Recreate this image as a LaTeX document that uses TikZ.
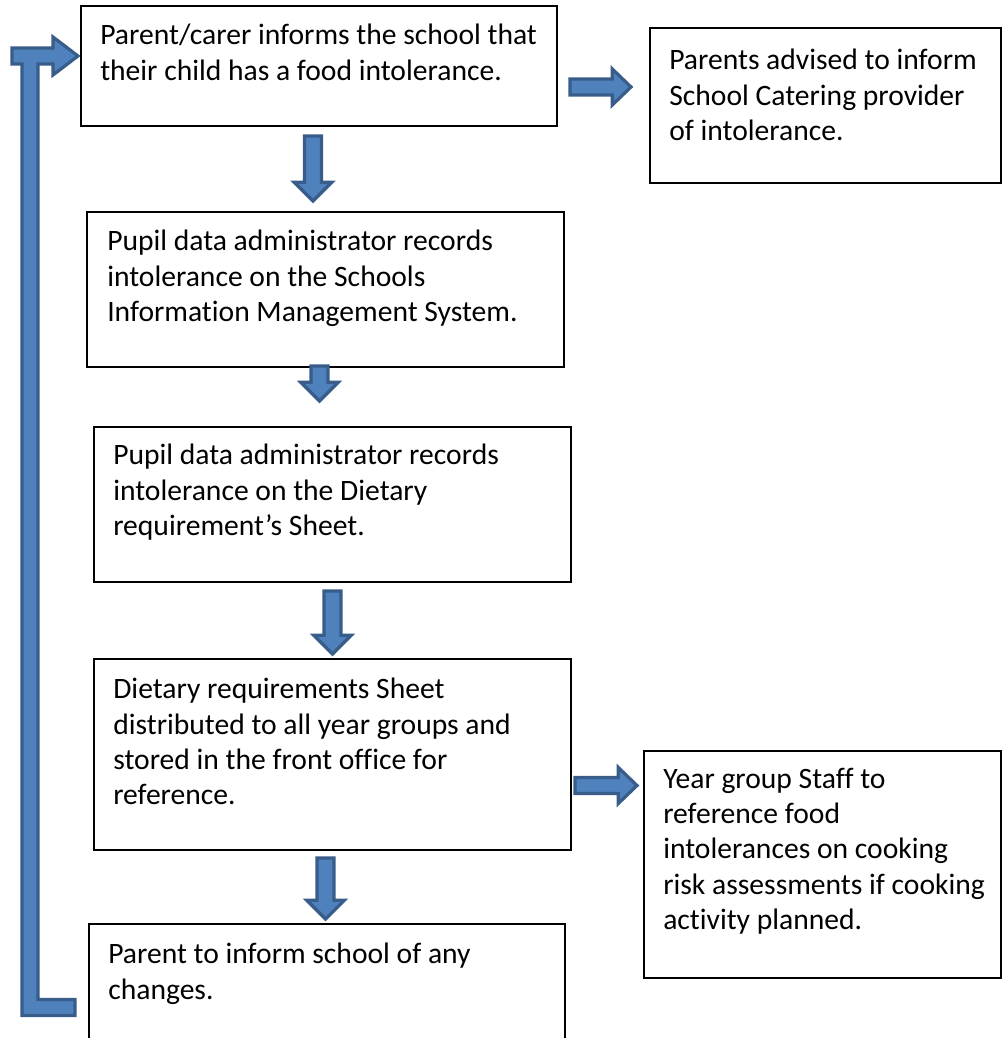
\documentclass[tikz,border=0pt]{standalone}
\usepackage{fontspec}
\setmainfont{Carlito}[Ligatures=NoCommon]
\usepackage{tikz}
\usetikzlibrary{positioning, calc}
\definecolor{arrowfill}{HTML}{4F81BD}
\definecolor{arrowline}{HTML}{385D8A}
% block arrows between two boxes
\newcommand{\blkdown}[2]{%
  \draw[blk arrow] let \p1=#1, \p2=#2 in
    (\x1-6.4pt,\y1) -- (\x1+6.4pt,\y1) -- (\x1+6.4pt,\y2+14pt) -- (\x1+14pt,\y2+14pt)
    -- (\x1,\y2) -- (\x1-14pt,\y2+14pt) -- (\x1-6.4pt,\y2+14pt) -- cycle;}
\newcommand{\blkright}[2]{%
  \draw[blk arrow] let \p1=#1, \p2=#2 in
    (\x1,\y1+6pt) -- (\x1,\y1-6pt) -- (\x2-14pt,\y1-6pt) -- (\x2-14pt,\y1-13.5pt)
    -- (\x2,\y1) -- (\x2-14pt,\y1+13.5pt) -- (\x2-14pt,\y1+6pt) -- cycle;}

\begin{document}
\begin{tikzpicture}[x=0.75pt, y=-0.75pt,
  box node/.style={rectangle, draw, line width=1.5pt, anchor=north west, inner sep=0pt},
  txt node/.style={anchor=north west, inner sep=0pt, align=left,
    font=\fontsize{22.2pt}{26.4pt}\selectfont},
  blk arrow/.style={fill=arrowfill, draw=arrowline, line width=2.4pt, line join=miter}]
  \useasboundingbox (0,0) rectangle (1002,1038);
  \clip (0,0) rectangle (1002,1038);
  % boxes
  \node[box node, minimum width=357pt, minimum height=90pt] (1) at (80,5) {};
  \node[box node, minimum width=263.25pt, minimum height=116.25pt] (2) at (649,27) {};
  \node[box node, minimum width=357.75pt, minimum height=116.25pt] (3) at (86,211) {};
  \node[box node, minimum width=357.75pt, minimum height=116.25pt] (4) at (93,426) {};
  \node[box node, minimum width=357.75pt, minimum height=143.25pt] (5) at (93,658) {};
  \node[box node, minimum width=267.75pt, minimum height=170.25pt] (6) at (643,750) {};
  \node[box node, minimum width=357pt, minimum height=102.75pt] (7) at (88,923) {};
  % texts
  \node[txt node] (1t) at ($(1.north west)+(20,19)$) {Parent/carer informs the school that\\their child has a food intolerance.};
  \node[txt node] (2t) at ($(2.north west)+(20,22)$) {Parents advised to inform\\School Catering provider\\of intolerance.};
  \node[txt node] (3t) at ($(3.north west)+(21,19)$) {Pupil data administrator records\\intolerance on the Schools\\Information Management System.};
  \node[txt node] (4t) at ($(4.north west)+(20,18)$) {Pupil data administrator records\\intolerance on the Dietary\\requirement’s Sheet.};
  \node[txt node] (5t) at ($(5.north west)+(20,20)$) {Dietary requirements Sheet\\distributed to all year groups and\\stored in the front office for\\reference.};
  \node[txt node] (6t) at ($(6.north west)+(20,18)$) {Year group Staff to\\reference food\\intolerances on cooking\\risk assessments if cooking\\activity planned.};
  \node[txt node] (7t) at ($(7.north west)+(20,20)$) {Parent to inform school of any\\changes.};
  % arrows
  \blkdown{($(1.south)+(-6,9)$)}{($(3.north)+(0,-10)$)}
  \blkdown{($(3.south)+(-6,-2)$)}{($(4.north)+(0,-25)$)}
  \blkdown{($(4.south)+(0,8)$)}{($(5.north)+(0,-4)$)}
  \blkdown{($(5.south)+(-7,7)$)}{($(7.north)+(0,-4)$)}
  \blkright{($(1.east)+(12,21)$)}{($(2.west)+(-18,0)$)}
  \blkright{($(5.east)+(3,31)$)}{($(6.west)+(-6,0)$)}
  % loop back from the last box to the first
  \coordinate (tip) at ($(1.west)+(-2,-10)$);
  \coordinate (foot) at ($(7.west)+(-13,15)$);
  \draw[blk arrow] (tip) -- ++(-25,-19) -- ++(0,11) -- ++(-41,0) -- ++(0,16) -- ++(10,0)
    |- ($(foot)+(0,8)$) -- ++(0,-16) -- ++(-37,0) |- ($(tip)+(-40,8)$)
    -- ++(15,0) -- ++(0,11) -- cycle;
\end{tikzpicture}
\end{document}
